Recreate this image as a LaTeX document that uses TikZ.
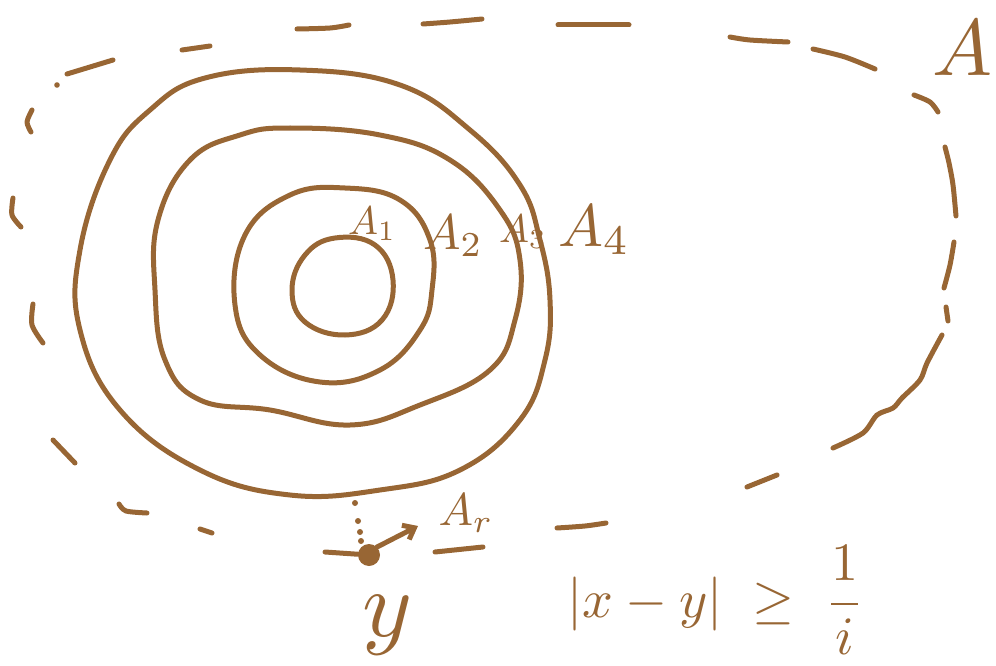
\documentclass[tikz,border=0pt]{standalone}
\usetikzlibrary{arrows.meta}
\definecolor{brn}{RGB}{152,102,52}
\begin{document}
\begin{tikzpicture}[x=1pt,y=-1pt,
  pen/.style={draw=brn,line width=5pt,line cap=round,line join=round},
  lab/.style={text=brn,inner sep=0pt,transform shape}]
\useasboundingbox (0,0) rectangle (996,666);
% outer dashed set A, drawn stroke by stroke
\fill[brn] (57,85) circle (2.8pt);
\draw[pen] (67,74) -- (113,60);
\draw[pen] (182,50) -- (210,46);
\draw[pen] plot[smooth] coordinates {(297,29) (330,28) (349,25)};
\draw[pen] plot[smooth] coordinates {(423,24) (450,22) (482,19)};
\draw[pen] (558,25) -- (629,25);
\draw[pen] plot[smooth] coordinates {(730,37) (750,40) (788,42)};
\draw[pen] plot[smooth] coordinates {(813,49) (845,57) (875,69)};
\draw[pen] plot[smooth] coordinates {(914,95) (930,102) (938,112)};
\draw[pen] plot[smooth] coordinates {(945,147) (949,163) (953,185) (956,216)};
\draw[pen] plot[smooth] coordinates {(954,242) (950,265) (944,288)};
\draw[pen] (946,307) -- (948,321);
\draw[pen] plot[smooth] coordinates {(942,335) (927,363) (920,380) (902,398) (893,408) (877,415) (863,433) (833,448)};
\draw[pen] (747,487) -- (777,475);
\draw[pen] plot[smooth] coordinates {(557,528) (585,526) (606,523)};
\draw[pen] (200,529) -- (212,533);
\draw[pen] plot[smooth] coordinates {(119,504) (126,511) (147,513)};
\draw[pen] (53,440) -- (75,463);
\draw[pen] plot[smooth] coordinates {(33,304) (32,325) (43,343)};
\draw[pen] plot[smooth] coordinates {(13,198) (12,215) (21,227)};
\draw[pen] plot[smooth] coordinates {(32,110) (27,122) (31,132)};
% A4
\draw[pen] plot[smooth cycle,tension=0.7] coordinates {
 (205,78) (300,70) (400,85) (470,130) (520,185) (540,240) (550,300) (545,360)
 (520,420) (460,470) (380,490) (290,495) (200,470) (120,410) (80,330) (80,250)
 (110,160) (150,110)};
% A3
\draw[pen] plot[smooth cycle,tension=0.7] coordinates {
 (290,128) (380,135) (450,160) (500,210) (520,260) (515,320) (490,370)
 (420,405) (350,425) (270,410) (200,400) (165,360) (155,290) (158,220)
 (190,160) (240,135)};
% A2
\draw[pen] plot[smooth cycle,tension=0.7] coordinates {
 (345,188) (400,200) (430,240) (432,290) (420,330) (380,370) (320,382)
 (260,355) (235,305) (245,235) (290,195)};
% A1
\draw[pen] plot[smooth cycle,tension=0.7] coordinates {
 (335,238) (375,245) (393,280) (382,320) (345,335) (305,322) (292,290) (305,255)};
% labels
\node[lab,scale=4.0] (a1) at (372,224) {$A_1$};
\node[lab,scale=5.0] (a2) at (453,236) {$A_2$};
\node[lab,scale=4.0] (a3) at (523,232) {$A_3$};
\node[lab,scale=6.0] (a4) at (594,230) {$A_4$};
\node[lab,scale=8.0] (a) at (962,48) {$A$};
% point y
\node[circle,fill=brn,inner sep=0pt,minimum size=22pt] (y) at (369,555) {};
\coordinate (ylft) at (325,552);
\draw[pen] (ylft) -- (y);
\foreach \p in {(355,503),(358,521),(360,532),(361,541)}
  \fill[brn] \p circle (3pt);
\coordinate (arr) at (418,526);
\draw[pen,-{Straight Barb[length=10pt,width=16pt]}] (y.north east) -- (arr);
\node[lab,scale=4.6] (ar) at (466,513) {$A_r$};
\coordinate (u1) at (435,552);
\coordinate (u2) at (483,547);
\draw[pen] (u1) -- (u2);
\node[lab,scale=9.5] (ylab) at (387,625) {$y$};
\node[lab,scale=5.4] (eq) at (716,600) {$|x-y|\;\geq\;\displaystyle\frac{1}{i}$};
\end{tikzpicture}
\end{document}
